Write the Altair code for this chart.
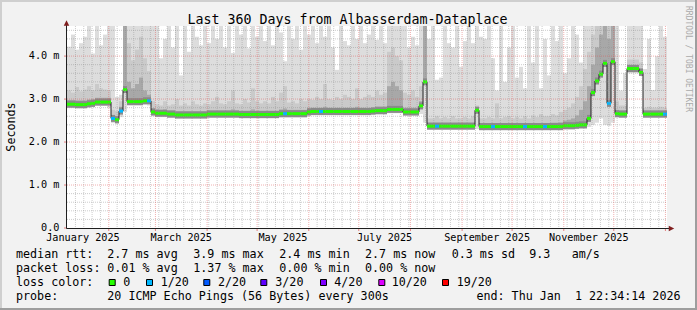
import datetime as dt
import altair as alt
import pandas as pd

# ------------------------------------------------------------------
# Data (150 time buckets of 2.4 days each)
# values in milliseconds
# ------------------------------------------------------------------
med = [
 2.88, 2.88, 2.87, 2.87, 2.87, 2.89, 2.90, 2.93, 2.93, 2.93,
 2.93, 2.55, 2.52, 2.72, 3.22, 2.94, 2.94, 2.94, 2.94, 2.96,
 2.96, 2.70, 2.67, 2.67, 2.67, 2.65, 2.65, 2.63, 2.63, 2.63,
 2.63, 2.63, 2.63, 2.63, 2.63, 2.65, 2.65, 2.65, 2.65, 2.65,
 2.65, 2.65, 2.65, 2.64, 2.64, 2.64, 2.64, 2.64, 2.64, 2.64,
 2.64, 2.64, 2.64, 2.66, 2.66, 2.66, 2.66, 2.66, 2.66, 2.66,
 2.70, 2.71, 2.71, 2.71, 2.71, 2.71, 2.71, 2.71, 2.71, 2.71,
 2.71, 2.71, 2.71, 2.71, 2.71, 2.71, 2.72, 2.73, 2.73, 2.73,
 2.76, 2.76, 2.76, 2.76, 2.70, 2.70, 2.70, 2.70, 2.84, 3.40,
 2.37, 2.37, 2.37, 2.37, 2.37, 2.37, 2.37, 2.37, 2.37, 2.37,
 2.37, 2.37, 2.74, 2.36, 2.36, 2.36, 2.36, 2.36, 2.36, 2.36,
 2.36, 2.36, 2.36, 2.36, 2.36, 2.36, 2.36, 2.36, 2.36, 2.36,
 2.36, 2.36, 2.36, 2.36, 2.38, 2.38, 2.38, 2.39, 2.40, 2.40,
 2.55, 3.15, 3.42, 3.58, 3.83, 2.90, 3.87, 2.66, 2.65, 2.65,
 3.71, 3.71, 3.71, 3.62, 2.65, 2.65, 2.65, 2.65, 2.65, 2.65,
]
lo = [
 2.79, 2.79, 2.78, 2.78, 2.78, 2.80, 2.81, 2.84, 2.84, 2.84,
 2.80, 2.44, 2.42, 2.58, 2.70, 2.85, 2.85, 2.85, 2.85, 2.87,
 2.85, 2.60, 2.58, 2.58, 2.58, 2.56, 2.56, 2.54, 2.54, 2.54,
 2.54, 2.54, 2.54, 2.54, 2.54, 2.56, 2.56, 2.56, 2.56, 2.56,
 2.56, 2.56, 2.56, 2.55, 2.55, 2.55, 2.55, 2.55, 2.55, 2.55,
 2.55, 2.55, 2.55, 2.57, 2.57, 2.57, 2.57, 2.57, 2.57, 2.57,
 2.60, 2.62, 2.62, 2.62, 2.62, 2.62, 2.62, 2.62, 2.62, 2.62,
 2.62, 2.62, 2.62, 2.62, 2.62, 2.62, 2.63, 2.64, 2.64, 2.64,
 2.67, 2.67, 2.67, 2.67, 2.61, 2.61, 2.61, 2.61, 2.65, 2.45,
 2.28, 2.28, 2.28, 2.28, 2.28, 2.28, 2.28, 2.28, 2.28, 2.28,
 2.28, 2.28, 2.30, 2.27, 2.27, 2.27, 2.27, 2.27, 2.27, 2.27,
 2.27, 2.27, 2.27, 2.27, 2.27, 2.27, 2.27, 2.27, 2.27, 2.27,
 2.27, 2.27, 2.27, 2.27, 2.29, 2.29, 2.29, 2.30, 2.31, 2.31,
 2.35, 2.40, 2.45, 2.55, 2.40, 2.38, 2.45, 2.57, 2.56, 2.56,
 3.60, 3.60, 3.60, 3.55, 2.56, 2.56, 2.56, 2.56, 2.56, 2.56,
]
hi = [
 4.22, 4.50, 4.15, 4.30, 4.45, 4.70, 4.06, 4.70, 4.25, 4.50,
 4.70, 4.70, 3.05, 3.10, 4.70, 4.70, 4.70, 4.70, 4.70, 4.70,
 4.70, 4.70, 4.70, 3.95, 4.40, 4.70, 4.20, 4.70, 3.55, 4.70,
 4.10, 4.70, 4.45, 4.25, 4.70, 4.30, 4.70, 4.40, 4.70, 4.20,
 4.70, 4.07, 4.70, 4.50, 4.70, 4.18, 4.70, 4.45, 4.70, 4.35,
 4.70, 4.25, 4.70, 4.55, 3.88, 4.70, 4.40, 4.70, 4.15, 4.70,
 4.50, 4.70, 4.30, 4.70, 4.45, 4.70, 4.20, 3.68, 4.70, 4.35,
 4.25, 4.70, 4.40, 4.70, 4.30, 4.50, 4.70, 4.38, 4.70, 4.30,
 4.70, 4.70, 4.70, 4.70, 4.70, 4.20, 4.45, 4.25, 4.70, 4.70,
 4.40, 4.70, 3.45, 3.50, 4.70, 4.30, 4.20, 4.70, 3.75, 4.35,
 4.70, 4.30, 4.70, 4.45, 4.40, 4.70, 3.95, 3.20, 4.70, 3.40,
 4.20, 4.70, 3.50, 3.75, 3.25, 4.70, 3.85, 4.70, 3.25, 4.40,
 3.55, 4.70, 4.35, 4.70, 3.60, 3.95, 4.70, 4.50, 3.85, 4.70,
 4.70, 4.70, 4.70, 4.70, 4.70, 4.70, 4.70, 4.70, 3.20, 3.60,
 4.70, 4.70, 4.70, 4.70, 3.70, 4.40, 3.21, 4.00, 4.70, 4.45,
]
mid = [
 3.20, 3.15, 3.28, 3.18, 3.22, 3.30, 3.20, 3.35, 3.25, 3.22,
 3.20, 2.75, 2.72, 2.95, 4.70, 4.30, 3.90, 4.15, 4.45, 3.95,
 3.65, 2.95, 2.88, 2.85, 2.95, 2.85, 2.88, 3.00, 2.85, 2.90,
 2.85, 2.95, 2.88, 2.85, 2.90, 2.88, 2.95, 3.05, 2.90, 2.88,
 2.95, 3.20, 2.90, 2.88, 3.00, 2.92, 3.25, 2.95, 2.90, 2.95,
 2.90, 3.05, 2.95, 3.15, 3.30, 2.92, 2.95, 2.90, 3.00, 2.95,
 3.00, 2.98, 3.05, 3.00, 3.35, 3.00, 2.98, 3.05, 3.00, 3.10,
 3.05, 3.00, 3.25, 3.00, 3.05, 3.10, 3.05, 3.20, 3.10, 3.15,
 4.10, 4.20, 4.00, 3.90, 3.15, 3.10, 3.20, 3.05, 3.30, 4.70,
 2.55, 2.55, 2.60, 2.55, 2.58, 2.55, 2.60, 2.55, 2.55, 2.58,
 2.55, 2.60, 2.85, 2.55, 2.55, 2.58, 2.55, 2.90, 2.55, 2.58,
 2.60, 2.55, 2.58, 2.55, 2.60, 2.55, 2.62, 2.58, 2.65, 2.60,
 2.60, 2.65, 2.62, 2.70, 2.75, 2.80, 2.90, 3.05, 3.30, 3.70,
 4.10, 4.50, 4.70, 4.70, 4.70, 4.70, 4.70, 2.95, 2.85, 2.85,
 3.92, 3.92, 3.92, 3.85, 2.80, 2.82, 2.80, 2.80, 2.82, 2.80,
]
q = [
 2.98, 2.98, 2.97, 2.97, 2.97, 2.99, 3.00, 3.03, 3.03, 3.03,
 3.03, 2.62, 2.60, 2.82, 4.70, 3.40, 3.25, 3.35, 3.50, 3.20,
 3.10, 2.78, 2.76, 2.75, 2.76, 2.74, 2.74, 2.72, 2.72, 2.72,
 2.72, 2.72, 2.72, 2.72, 2.72, 2.74, 2.74, 2.74, 2.74, 2.74,
 2.74, 2.76, 2.74, 2.73, 2.73, 2.73, 2.76, 2.73, 2.73, 2.73,
 2.73, 2.73, 2.73, 2.76, 2.78, 2.75, 2.75, 2.75, 2.75, 2.75,
 2.80, 2.80, 2.80, 2.80, 2.82, 2.80, 2.80, 2.80, 2.80, 2.80,
 2.80, 2.80, 2.82, 2.80, 2.80, 2.80, 2.81, 2.83, 2.83, 2.83,
 3.30, 3.40, 3.30, 3.20, 2.80, 2.80, 2.80, 2.80, 2.95, 4.70,
 2.45, 2.45, 2.45, 2.45, 2.45, 2.45, 2.45, 2.45, 2.45, 2.45,
 2.45, 2.45, 2.80, 2.44, 2.44, 2.44, 2.44, 2.44, 2.44, 2.44,
 2.44, 2.44, 2.44, 2.44, 2.44, 2.44, 2.44, 2.44, 2.44, 2.44,
 2.44, 2.45, 2.45, 2.46, 2.50, 2.52, 2.55, 2.62, 2.75, 2.95,
 3.30, 3.80, 4.20, 4.50, 4.70, 4.40, 4.70, 2.75, 2.74, 2.74,
 3.80, 3.80, 3.80, 3.72, 2.74, 2.74, 2.74, 2.74, 2.74, 2.74,
]
# packets lost (out of 20) per bucket
loss = [
 0, 0, 0, 0, 0, 0, 0, 0, 0, 0,
 0, 1, 0, 1, 0, 0, 0, 0, 0, 0,
 1, 0, 0, 0, 0, 0, 0, 0, 0, 0,
 0, 0, 0, 0, 0, 0, 0, 0, 0, 0,
 0, 0, 0, 0, 0, 0, 0, 0, 0, 0,
 0, 0, 0, 0, 1, 0, 0, 0, 0, 0,
 0, 0, 0, 1, 0, 0, 0, 0, 0, 0,
 0, 0, 0, 0, 0, 0, 0, 0, 0, 0,
 0, 0, 0, 0, 0, 0, 0, 0, 0, 0,
 0, 0, 1, 0, 0, 0, 0, 0, 0, 0,
 0, 0, 0, 0, 0, 0, 1, 0, 0, 0,
 0, 0, 0, 0, 1, 0, 0, 0, 0, 1,
 0, 0, 0, 0, 0, 0, 0, 0, 0, 0,
 0, 0, 0, 0, 0, 1, 0, 0, 0, 0,
 0, 0, 0, 0, 0, 0, 0, 0, 0, 1,
]
N = len(med)
for arr in (lo, hi, mid, q, loss):
    assert len(arr) == N

title_text = "Last 360 Days from Albasserdam-Dataplace"
y_tick_values = [0, 1, 2, 3, 4]
y_tick_labels = ["0.0", "1.0 m", "2.0 m", "3.0 m", "4.0 m"]
label_months = [(2025, 1), (2025, 3), (2025, 5), (2025, 7), (2025, 9), (2025, 11)]

legend_texts = ["median rtt:", "2.7 ms avg", "3.9 ms max", "2.4 ms min", "2.7 ms now",
                "0.3 ms sd", "9.3", "am/s",
                "packet loss:", "0.01 % avg", "1.37 % max", "0.00 % min", "0.00 % now",
                "loss color:",
                "probe:", "20 ICMP Echo Pings (56 Bytes) every 300s"]
end_text = "end: Thu Jan\u00a0 1 22:34:14 2026"
loss_labels = ["0", "1/20", "2/20", "3/20", "4/20", "10/20", "19/20"]
loss_colors = ["#26ff00", "#00b8ff", "#0059ff", "#5e00ff", "#7e00ff", "#dd00ff", "#ff0000"]

# ------------------------------------------------------------------
# layout (canvas pixels)
# ------------------------------------------------------------------
PL, PT, W, H = 67, 26, 600, 202
MONO = "DejaVu Sans Mono"
legend_x = [16, 107.3, 193.3, 279.3, 365, 451.7, 529.3, 571.7,
            16, 107.3, 193.3, 279.3, 365,
            16,
            16, 107.3]
B1, B2, B3, B4 = 258, 272, 286.3, 300.3
legend_base = [B1] * 8 + [B2] * 5 + [B3] + [B4] * 2
box_x = [108.7, 146, 203.3, 260.3, 320, 378.3, 442]
lab_x = [123.3, 160.7, 218, 275.3, 334.3, 391.7, 456.7]

START = dt.datetime(2025, 1, 6, 22, 34, 14)
END = dt.datetime(2026, 1, 1, 22, 34, 14)
DAYS = (END - START).total_seconds() / 86400.0


def dd(d):
    return (d - START).total_seconds() / 86400.0


step = DAYS / N
df = pd.DataFrame(dict(
    t0=[i * step for i in range(N)],
    t1=[(i + 1) * step for i in range(N)],
    tc=[(i + 0.5) * step for i in range(N)],
    med=med, lo=lo, hi=hi, mid=mid, q=q, loss=loss))

ldf = pd.DataFrame({"t": list(df["t0"]) + [DAYS], "m": med + [med[-1]]})

month_dates = [dt.datetime(2025, m, 1) for m in range(2, 13)] + [dt.datetime(2026, 1, 1)]
major_x = [dd(d) for d in month_dates]
minor_x = []
d = dt.datetime(2025, 1, 12)
while d < END:
    if d.day != 1:
        minor_x.append(dd(d))
    d += dt.timedelta(days=5)

minor_y = [round(0.2 * k, 1) for k in range(1, 24) if k % 5 != 0]
major_y = [1, 2, 3, 4]

lab_pos, lab_txt = [], []
for (yy, mm) in label_months:
    a = dt.datetime(yy, mm, 1)
    b = dt.datetime(yy + (mm // 12), mm % 12 + 1, 1)
    lab_pos.append((dd(a) + dd(b)) / 2)
    lab_txt.append(a.strftime("%B %Y"))

xs = alt.Scale(domain=[0, DAYS], nice=False, zero=False)
ys = alt.Scale(domain=[0, 4.7], nice=False, zero=False)
one = pd.DataFrame({"a": [0]})

base = alt.Chart(df)
X0 = alt.X("t0:Q", scale=xs, axis=None)


def smoke(color, lower, upper):
    return base.mark_rect(color=color).encode(
        x=X0, x2="t1:Q",
        y=alt.Y(f"{lower}:Q", scale=ys, axis=None), y2=f"{upper}:Q")


layers = []
layers.append(smoke("#dddddd", "lo", "hi"))
layers.append(smoke("#cacaca", "med", "mid"))
layers.append(smoke("#a8a8a8", "med", "q"))
layers.append(base.mark_tick(orient="horizontal", size=4, thickness=7,
                             color="#8a8a8a", opacity=1).encode(
    x=alt.X("tc:Q", scale=xs, axis=None), y=alt.Y("med:Q", scale=ys, axis=None)))
layers.append(alt.Chart(ldf).mark_line(interpolate="step-after", color="#202020",
                                       strokeWidth=1).encode(
    x=alt.X("t:Q", scale=xs, axis=None), y=alt.Y("m:Q", scale=ys, axis=None)))
layers.append(base.mark_tick(orient="horizontal", size=4, thickness=3, opacity=1).encode(
    x=alt.X("tc:Q", scale=xs, axis=None), y=alt.Y("med:Q", scale=ys, axis=None),
    color=alt.Color("loss:O", scale=alt.Scale(domain=[0, 1],
                                              range=[loss_colors[0], loss_colors[1]]),
                    legend=None)))

# grid (drawn over data, like rrdtool)
GRID = dict(strokeDash=[1, 1], strokeWidth=1)
layers.append(alt.Chart(pd.DataFrame({"v": minor_y})).mark_rule(
    color="#8f8f8f", opacity=0.45, **GRID).encode(
    y=alt.Y("v:Q", scale=ys, axis=None), x=alt.value(0), x2=alt.value(W)))
layers.append(alt.Chart(pd.DataFrame({"v": minor_x})).mark_rule(
    color="#8f8f8f", opacity=0.45, **GRID).encode(
    x=alt.X("v:Q", scale=xs, axis=None), y=alt.value(0), y2=alt.value(H)))
layers.append(alt.Chart(pd.DataFrame({"v": major_y})).mark_rule(
    color="#de4f4f", opacity=0.45, **GRID).encode(
    y=alt.Y("v:Q", scale=ys, axis=None), x=alt.value(0), x2=alt.value(W)))
layers.append(alt.Chart(pd.DataFrame({"v": major_x})).mark_rule(
    color="#de4f4f", opacity=0.45, **GRID).encode(
    x=alt.X("v:Q", scale=xs, axis=None), y=alt.value(0), y2=alt.value(H)))
# small tick marks outside the axes
layers.append(alt.Chart(pd.DataFrame({"v": y_tick_values})).mark_rule(
    color="#de4f4f", opacity=0.7).encode(
    y=alt.Y("v:Q", scale=ys, axis=None), x=alt.value(-3), x2=alt.value(0)))
layers.append(alt.Chart(pd.DataFrame({"v": major_x})).mark_rule(
    color="#de4f4f", opacity=0.7).encode(
    x=alt.X("v:Q", scale=xs, axis=None), y=alt.value(H), y2=alt.value(H + 3)))

# axes + arrows
layers.append(alt.Chart(one).mark_rule(color="#1f1f1f", strokeWidth=1).encode(
    x=alt.value(-0.5), x2=alt.value(W + 4), y=alt.value(H + 0.5)))
layers.append(alt.Chart(one).mark_rule(color="#1f1f1f", strokeWidth=1).encode(
    x=alt.value(-0.5), y=alt.value(-3), y2=alt.value(H + 0.5)))
layers.append(alt.Chart(one).mark_point(shape="M0,-1L1,1L-1,1Z", filled=True,
                                        color="#801f1f", size=30, opacity=1).encode(
    x=alt.value(-0.5), y=alt.value(-3)))
layers.append(alt.Chart(one).mark_point(shape="M1,0L-1,-1L-1,1Z", filled=True,
                                        color="#801f1f", size=30, opacity=1).encode(
    x=alt.value(W + 4.5), y=alt.value(H + 0.5)))

# frame shading
layers.append(alt.Chart(one).mark_rule(color="#cfcfcf", strokeWidth=2).encode(
    x=alt.value(-PL), x2=alt.value(697 - PL), y=alt.value(1 - PT)))
layers.append(alt.Chart(one).mark_rule(color="#cfcfcf", strokeWidth=2).encode(
    x=alt.value(1 - PL), y=alt.value(-PT), y2=alt.value(310 - PT)))
layers.append(alt.Chart(one).mark_rule(color="#9e9e9e", strokeWidth=2).encode(
    x=alt.value(-PL), x2=alt.value(697 - PL), y=alt.value(309 - PT)))
layers.append(alt.Chart(one).mark_rule(color="#9e9e9e", strokeWidth=2).encode(
    x=alt.value(696 - PL), y=alt.value(-PT), y2=alt.value(310 - PT)))

# texts
layers.append(alt.Chart(one).mark_text(text=title_text, font=MONO, fontSize=13.3,
                                       align="center", baseline="alphabetic",
                                       color="black").encode(
    x=alt.value(347.5 - PL), y=alt.value(24 - PT)))
layers.append(alt.Chart(one).mark_text(text="Seconds", font=MONO, fontSize=11.7,
                                       angle=270, align="center", baseline="middle",
                                       color="black").encode(
    x=alt.value(10.5 - PL), y=alt.value(127 - PT)))
layers.append(alt.Chart(one).mark_text(text="RRDTOOL / TOBI OETIKER", font=MONO,
                                       fontSize=8, angle=90, align="center",
                                       baseline="middle", color="#aaaaaa").encode(
    x=alt.value(688 - PL), y=alt.value(59 - PT)))
layers.append(alt.Chart(pd.DataFrame({"v": y_tick_values, "l": y_tick_labels})).mark_text(
    font=MONO, fontSize=10.2, align="right", baseline="middle", color="black").encode(
    x=alt.value(59.5 - PL), y=alt.Y("v:Q", scale=ys, axis=None), text="l:N"))
layers.append(alt.Chart(pd.DataFrame({"v": lab_pos, "l": lab_txt})).mark_text(
    font=MONO, fontSize=10.2, align="center", baseline="alphabetic", color="black").encode(
    x=alt.X("v:Q", scale=xs, axis=None), y=alt.value(241 - PT), text="l:N"))

leg = pd.DataFrame({"t": legend_texts + loss_labels,
                    "x": [v - PL for v in legend_x + lab_x],
                    "y": [v - PT for v in legend_base + [B3] * len(lab_x)]})
layers.append(alt.Chart(leg).mark_text(font=MONO, fontSize=11.7, align="left",
                                       baseline="alphabetic", color="black").encode(
    x=alt.X("x:Q", scale=None, axis=None), y=alt.Y("y:Q", scale=None, axis=None),
    text="t:N"))
layers.append(alt.Chart(one).mark_text(text=end_text, font=MONO, fontSize=11.7,
                                       align="right", baseline="alphabetic",
                                       color="black").encode(
    x=alt.value(680.5 - PL), y=alt.value(B4 - PT)))

boxes = pd.DataFrame({"x": [v + 0.5 - PL for v in box_x],
                      "x2": [v + 6.5 - PL for v in box_x],
                      "y": [279.5 - PT] * len(box_x),
                      "y2": [285.5 - PT] * len(box_x),
                      "c": loss_colors})
layers.append(alt.Chart(boxes).mark_rect(stroke="black", strokeWidth=1).encode(
    x=alt.X("x:Q", scale=None, axis=None), x2="x2:Q",
    y=alt.Y("y:Q", scale=None, axis=None), y2="y2:Q",
    fill=alt.Fill("c:N", scale=None, legend=None)))

chart = alt.layer(*layers).resolve_scale(
    x="independent", y="independent", color="independent"
).properties(
    width=W, height=H,
    autosize=alt.AutoSizeParams(type="none"),
    padding={"left": PL, "top": PT, "right": 697 - PL - W, "bottom": 310 - PT - H},
    background="#f2f2f2",
).configure_view(fill="white", strokeWidth=0)

chart.save("out.html", embed_options={"renderer": "svg", "actions": False})
